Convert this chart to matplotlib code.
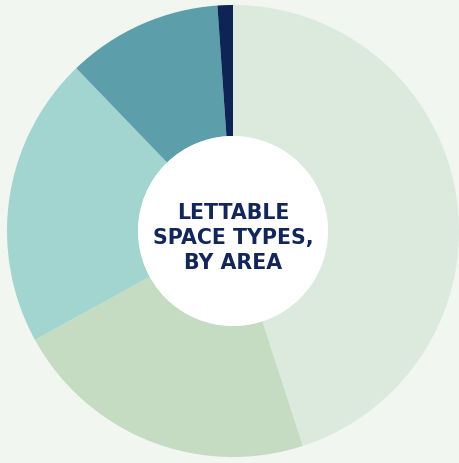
import matplotlib.pyplot as plt
from matplotlib.patches import Circle

# share of lettable area, clockwise from 12 o'clock
shares = [45.0, 22.0, 20.8, 11.1, 1.1]
colors = ["#dce9dd", "#c5dcc3", "#a3d5d0", "#5c9fab", "#0d2455"]
title = "LETTABLE\nSPACE TYPES,\nBY AREA"

W, H = 459, 464
fig = plt.figure(figsize=(W / 100, H / 100), dpi=100)
fig.patch.set_facecolor("#f1f6f1")
ax = fig.add_axes([0, 0, 1, 1])

cx, cy, r, hole = 233, 232, 226, 95
ax.pie(shares, colors=colors, startangle=90, counterclock=False,
       center=(cx, cy), radius=r, frame=True,
       wedgeprops=dict(width=r - hole, linewidth=0))
ax.add_patch(Circle((cx, cy), hole, facecolor="white", edgecolor="none", zorder=4))

ax.set_xlim(0, W)
ax.set_ylim(0, H)
ax.set_aspect("equal")
ax.axis("off")

ax.text(cx, cy - 6, title, ha="center", va="center", color="#13265a",
        fontsize=14.8, fontweight="bold", family="DejaVu Sans", linespacing=1.3,
        zorder=5)

fig.savefig("out.png", dpi=100, facecolor=fig.get_facecolor())
